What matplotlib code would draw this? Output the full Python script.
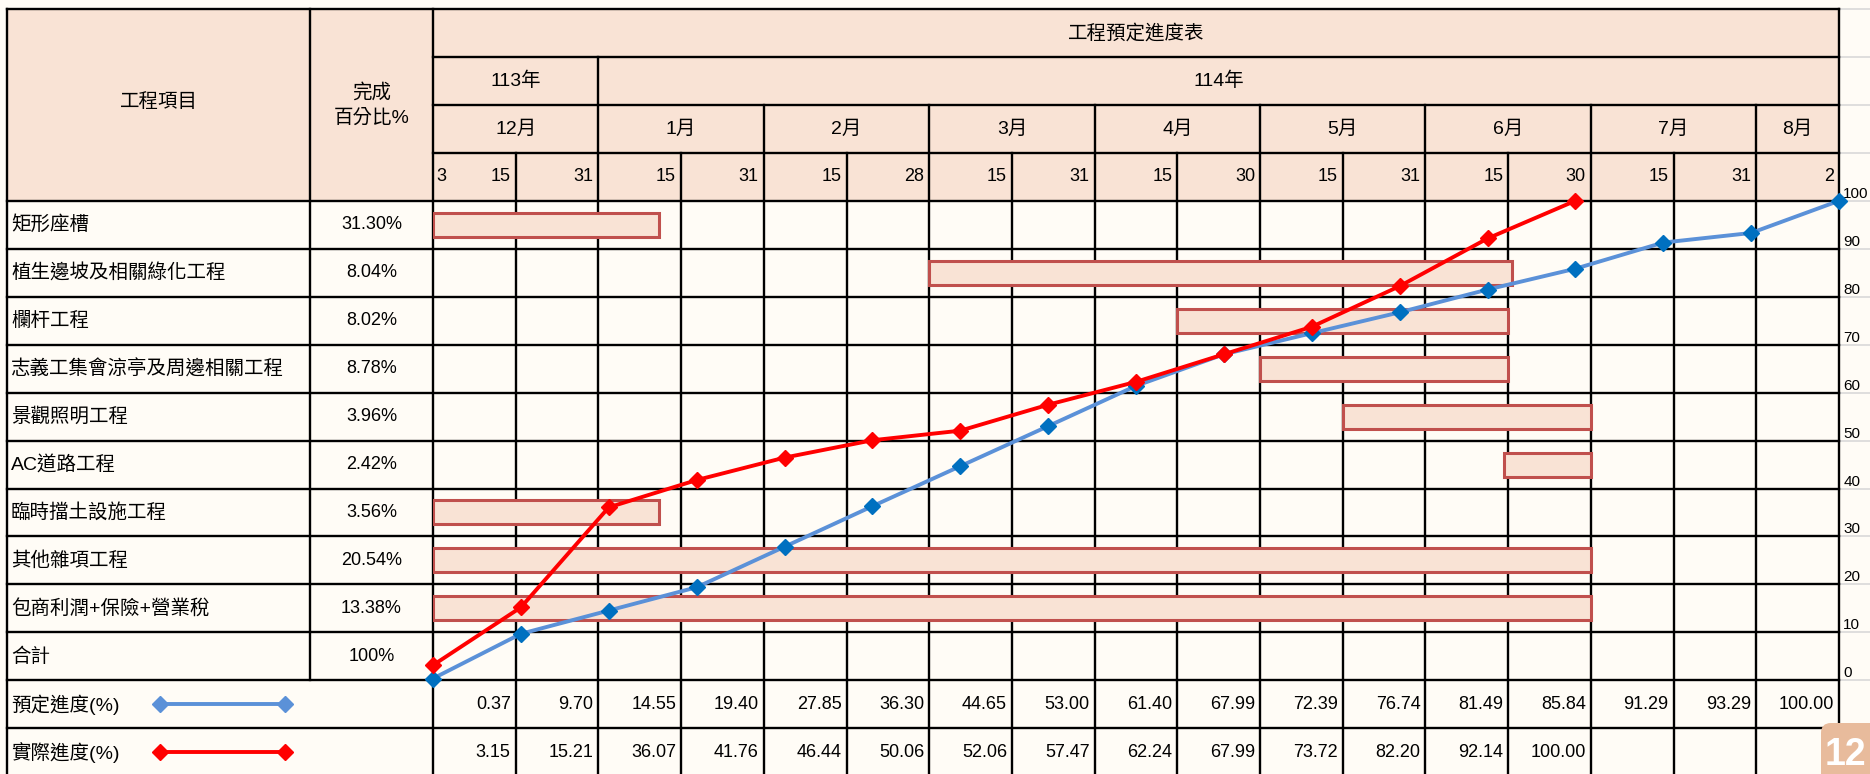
import matplotlib
matplotlib.use('Agg')
import matplotlib.pyplot as plt
from matplotlib.patches import Rectangle, FancyBboxPatch

plt.rcParams['font.family'] = ['Liberation Sans', 'Noto Sans CJK TC']

# ---- data ----
tasks = ['矩形座槽', '植生邊坡及相關綠化工程', '欄杆工程', '志義工集會涼亭及周邊相關工程',
         '景觀照明工程', 'AC道路工程', '臨時擋土設施工程', '其他雜項工程', '包商利潤+保險+營業稅']
task_pct = ['31.30%', '8.04%', '8.02%', '8.78%', '3.96%', '2.42%', '3.56%', '20.54%', '13.38%']
total_label, total_pct = '合計', '100%'

# bar spans in schedule columns (0 = 12/3 ... 17 = 8/2)
bar_start = [0, 6, 9, 10, 11, 12.95, 0, 0, 0]
bar_end = [2.73, 13.05, 13, 13, 14, 14, 2.73, 14, 14]

title = '工程預定進度表'
years = ['113年', '114年']
year_span = [2, 15]
months = ['12月', '1月', '2月', '3月', '4月', '5月', '6月', '7月', '8月']
month_span = [2, 2, 2, 2, 2, 2, 2, 2, 1]
first_day = '3'
days = ['15', '31', '15', '31', '15', '28', '15', '31', '15', '30',
        '15', '31', '15', '30', '15', '31', '2']

planned = [0.37, 9.70, 14.55, 19.40, 27.85, 36.30, 44.65, 53.00, 61.40,
           67.99, 72.39, 76.74, 81.49, 85.84, 91.29, 93.29, 100.00]
actual = [3.15, 15.21, 36.07, 41.76, 46.44, 50.06, 52.06, 57.47, 62.24,
          67.99, 73.72, 82.20, 92.14, 100.00]
planned_label = '預定進度(%)'
actual_label = '實際進度(%)'

# ---- layout / style ----
W, H = 1870, 774
X_L, X_1, X_2, X_R = 7, 310, 433, 1839
Y_T, RH = 9, 47.95
NC = len(days)
CW = (X_R - X_2) / NC
PEACH = '#F9E3D5'
CREAM = '#FFFCF6'
BLUE_LINE, BLUE_MK = '#5B91D8', '#0070C0'
RED = '#FF0000'
FS = 13      # numbers
FS_CJK = 14  # chinese labels
LW = 1.7


def ry(k):
    return Y_T + k * RH


def rc(k):
    return Y_T + (k + 0.5) * RH


fig = plt.figure(figsize=(W / 100, H / 100), dpi=100, facecolor=CREAM)
ax = fig.add_axes([0, 0, 1, 1])
ax.set_xlim(0, W)
ax.set_ylim(H, 0)
ax.axis('off')

# header fill
ax.add_patch(Rectangle((X_L, ry(0)), X_R - X_L, 4 * RH, fc=PEACH, ec='none', zorder=0))

# light grey sheet gridlines right of the table
for k in range(16):
    ax.plot([X_R, W], [ry(k), ry(k)], color='#D9D9D9', lw=1.2, zorder=0)

# horizontal table lines
ax.plot([X_L, X_R], [ry(0), ry(0)], color='k', lw=LW)
for k in (1, 2, 3):
    ax.plot([X_2, X_R], [ry(k), ry(k)], color='k', lw=LW)
for k in range(4, 16):
    ax.plot([X_L, X_R], [ry(k), ry(k)], color='k', lw=LW)

# vertical table lines
for x, y1 in ((X_L, H), (X_1, ry(14)), (X_2, H), (X_R, H)):
    ax.plot([x, x], [ry(0), y1], color='k', lw=LW)
month_bounds = set()
c = 0
for s in month_span:
    c += s
    month_bounds.add(c)
year_bounds = {year_span[0]}
for k in range(1, NC):
    top = ry(1) if k in year_bounds else (ry(2) if k in month_bounds else ry(3))
    ax.plot([X_2 + k * CW, X_2 + k * CW], [top, H], color='k', lw=LW)

# header texts
ax.text((X_L + X_1) / 2, (ry(0) + ry(4)) / 2 - 3, '工程項目', ha='center', va='center', fontsize=FS_CJK)
ax.text((X_1 + X_2) / 2, (ry(0) + ry(4)) / 2, '完成\n百分比%', ha='center', va='center',
        fontsize=FS_CJK, linespacing=1.45)
ax.text((X_2 + X_R) / 2, rc(0), title, ha='center', va='center', fontsize=FS_CJK)
c = 0
for lab, s in zip(years, year_span):
    ax.text(X_2 + (c + s / 2) * CW, rc(1), lab, ha='center', va='center', fontsize=FS_CJK)
    c += s
c = 0
for lab, s in zip(months, month_span):
    ax.text(X_2 + (c + s / 2) * CW, rc(2), lab, ha='center', va='center', fontsize=FS_CJK)
    c += s
ax.text(X_2 + 3, rc(3), first_day, ha='left', va='center', fontsize=FS)
for k, d in enumerate(days):
    ax.text(X_2 + (k + 1) * CW - 5, rc(3), d, ha='right', va='center', fontsize=FS)

# task rows
for i, (t, p) in enumerate(zip(tasks + [total_label], task_pct + [total_pct])):
    ax.text(X_L + 4, rc(4 + i), t, ha='left', va='center', fontsize=FS_CJK)
    ax.text((X_1 + X_2) / 2, rc(4 + i), p, ha='center', va='center', fontsize=FS)

# legend rows
ax.text(X_L + 4, rc(14), planned_label, ha='left', va='center', fontsize=FS_CJK)
ax.text(X_L + 4, rc(15), actual_label, ha='left', va='center', fontsize=FS_CJK)
ax.plot([160, 285], [rc(14), rc(14)], color=BLUE_LINE, lw=2.8, marker='D', ms=8.5)
ax.plot([160, 285], [rc(15), rc(15)], color=RED, lw=2.8, marker='D', ms=8.5)
for k, v in enumerate(planned):
    ax.text(X_2 + (k + 1) * CW - 5, rc(14), f'{v:.2f}', ha='right', va='center', fontsize=FS)
for k, v in enumerate(actual):
    ax.text(X_2 + (k + 1) * CW - 5, rc(15), f'{v:.2f}', ha='right', va='center', fontsize=FS)

# page badge
ax.add_patch(FancyBboxPatch((1821, 723), 90, 90, boxstyle='round,pad=0,rounding_size=10',
                            fc='#E8BB9C', ec='none', zorder=5))
ax.text(1825, 755, '12', color='white', fontweight='bold', fontsize=27,
        ha='left', va='center', zorder=6)

# gantt bars
rect = [X_2 / W, 1 - ry(14) / H, (X_R - X_2) / W, (ry(14) - ry(4)) / H]
ax_bar = fig.add_axes(rect)
ax_bar.set_xlim(0, NC)
ax_bar.set_ylim(0, 10)
ax_bar.axis('off')
ax_bar.patch.set_alpha(0)
ypos = [9.5 - i for i in range(len(tasks))]
ax_bar.barh(ypos, [e - s for s, e in zip(bar_start, bar_end)], left=bar_start, height=0.5,
            color=PEACH, edgecolor='#C0504D', linewidth=2.2)

# progress lines
ax_line = fig.add_axes(rect)
ax_line.patch.set_alpha(0)
ax_line.set_xlim(0, len(planned) - 1)
ax_line.set_ylim(0, 100)
for sp in ax_line.spines.values():
    sp.set_visible(False)
ax_line.set_xticks([])
ax_line.yaxis.tick_right()
ax_line.set_yticks(range(0, 101, 10))
ax_line.tick_params(axis='y', length=0, pad=3, labelsize=11)
for lab in ax_line.get_yticklabels():
    lab.set_va('bottom')
ax_line.plot(range(len(planned)), planned, color=BLUE_LINE, lw=2.8, marker='D', ms=8.5,
             mfc=BLUE_MK, mec=BLUE_MK, clip_on=False)
ax_line.plot(range(len(actual)), actual, color=RED, lw=2.8, marker='D', ms=8.5,
             mfc=RED, mec=RED, clip_on=False)

fig.savefig('out.png', dpi=100, facecolor=CREAM)
